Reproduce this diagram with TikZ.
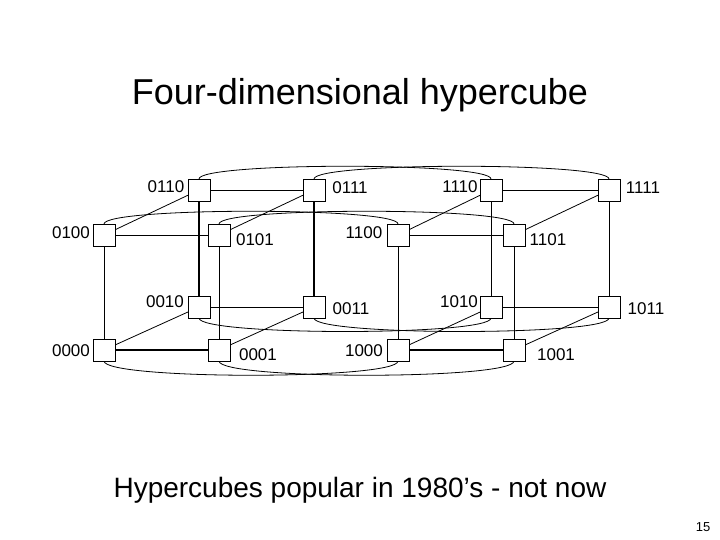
\documentclass[tikz,border=0pt]{standalone}
\usepackage{fontspec}
\setmainfont{Liberation Sans}
\begin{document}
\begin{tikzpicture}[x=1pt,y=-1pt,
  vx/.style={draw,fill=white,minimum size=22pt,inner sep=0pt,line width=0.9pt},
  lbl/.style={font=\fontsize{17}{19}\selectfont,inner sep=0pt},
  ed/.style={line width=0.8pt},
  thk/.style={line width=1.6pt}]
\useasboundingbox (0,0) rectangle (720,540);
\node[font=\fontsize{36}{40}\selectfont] (title) at (360,95) {Four-dimensional hypercube};
\node[font=\fontsize{28}{32}\selectfont] (foot) at (360,490) {Hypercubes popular in 1980’s - not now};
\node[font=\fontsize{13}{15}\selectfont] (pg) at (703,527) {15};
% vertices
\foreach \n/\x/\y in {0110/199/190,0111/314/190,1110/491/190,1111/609/190,
  0100/104/235,0101/219/235,1100/398/235,1101/514/235,
  0010/199/307,0011/314/307,1010/491/307,1011/609/307,
  0000/104/350,0001/219/350,1000/398/350,1001/514/350}
  \coordinate (c\n) at (\x,\y);
% curves
\path (c0110) ++(0,-11) coordinate (a1) (c1110) ++(0,-11) coordinate (a2);
\draw[ed] (a1) .. controls (199,162) and (491,162) .. (a2);
\path (c0111) ++(0,-11) coordinate (b1) (c1111) ++(0,-11) coordinate (b2);
\draw[ed] (b1) .. controls (314,162) and (609,162) .. (b2);
\path (c0100) ++(0,-11) coordinate (d1) (c1100) ++(0,-11) coordinate (d2);
\draw[ed] (d1) .. controls (104,207) and (398,207) .. (d2);
\path (c0101) ++(0,-11) coordinate (e1) (c1101) ++(0,-11) coordinate (e2);
\draw[ed] (e1) .. controls (219,207) and (514,207) .. (e2);
\path (c0010) ++(0,11) coordinate (f1) (c1010) ++(0,11) coordinate (f2);
\draw[ed] (f1) .. controls (199,336) and (491,336) .. (f2);
\path (c0011) ++(0,11) coordinate (g1) (c1011) ++(0,11) coordinate (g2);
\draw[ed] (g1) .. controls (314,336) and (609,336) .. (g2);
\path (c0000) ++(0,11) coordinate (h1) (c1000) ++(0,11) coordinate (h2);
\draw[ed] (h1) .. controls (104,380) and (398,380) .. (h2);
\path (c0001) ++(0,11) coordinate (k1) (c1001) ++(0,11) coordinate (k2);
\draw[ed] (k1) .. controls (219,380) and (514,380) .. (k2);
% straight edges
\foreach \a/\b in {0110/0111,1110/1111,0100/0101,1100/1101,0010/0011,1010/1011,
  0100/0000,0101/0001,1100/1000,1101/1001,1110/1010,1111/1011,
  0110/0100,0111/0101,1110/1100,1111/1101,0010/0000,0011/0001,1010/1000,1011/1001}
  \draw[ed] (c\a) -- (c\b);
\foreach \a/\b in {0000/0001,1000/1001,0110/0010,0111/0011}
  \draw[thk] (c\a) -- (c\b);
% boxes
\foreach \n in {0110,0111,1110,1111,0100,0101,1100,1101,0010,0011,1010,1011,0000,0001,1000,1001}
  \node[vx] (\n) at (c\n) {};
% labels
\foreach \n/\x/\y in {0110/166/187,0111/350/188,1110/460/187,1111/643/188,
  0100/71/233,0101/255/240,1100/364/233,1101/548/240,
  0010/165/302,0011/351/309,1010/459/302,1011/646/309,
  0000/71/351,0001/258/355,1000/364/351,1001/556/355}
  \node[lbl] (l\n) at (\x,\y) {\n};
\end{tikzpicture}
\end{document}
